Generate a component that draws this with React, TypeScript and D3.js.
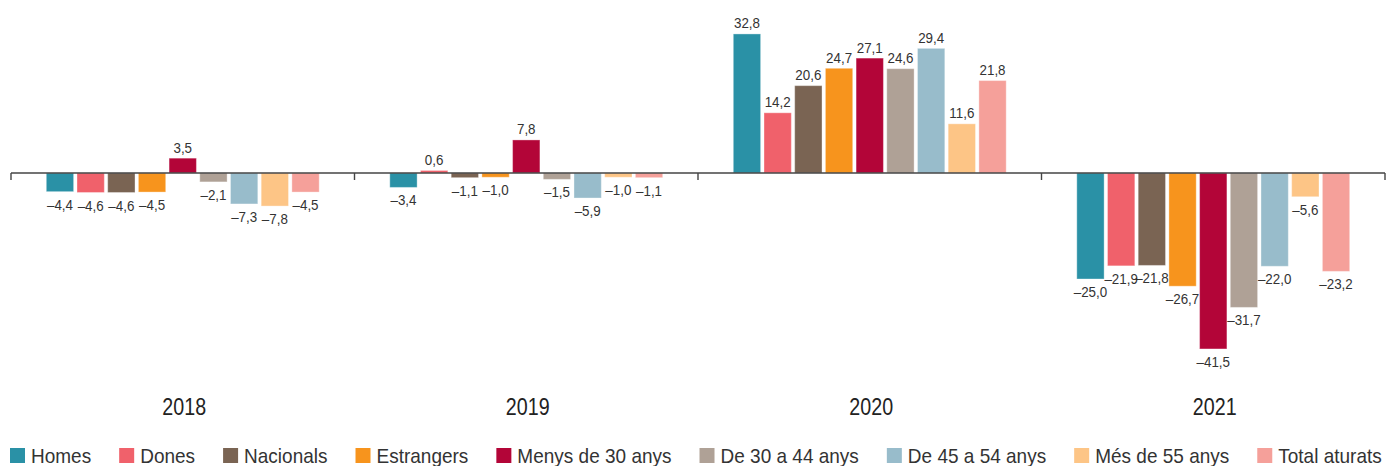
import React, { useEffect, useRef } from "react";
import * as d3 from "d3";

const years = ["2018", "2019", "2020", "2021"];

const seriesNames = [
  "Homes",
  "Dones",
  "Nacionals",
  "Estrangers",
  "Menys de 30 anys",
  "De 30 a 44 anys",
  "De 45 a 54 anys",
  "Més de 55 anys",
  "Total aturats",
];

const seriesColors = [
  "#2a91a6",
  "#f0616b",
  "#7a6453",
  "#f7941d",
  "#b30538",
  "#afa196",
  "#98bccb",
  "#fdc586",
  "#f5a09a",
];

// values per series, one per year
const homes = [-4.4, -3.4, 32.8, -25.0];
const dones = [-4.6, 0.6, 14.2, -21.9];
const nacionals = [-4.6, -1.1, 20.6, -21.8];
const estrangers = [-4.5, -1.0, 24.7, -26.7];
const menys30 = [3.5, 7.8, 27.1, -41.5];
const de30a44 = [-2.1, -1.5, 24.6, -31.7];
const de45a54 = [-7.3, -5.9, 29.4, -22.0];
const mes55 = [-7.8, -1.0, 11.6, -5.6];
const totalAturats = [-4.5, -1.1, 21.8, -23.2];

const seriesValues = [homes, dones, nacionals, estrangers, menys30, de30a44, de45a54, mes55, totalAturats];

const fmt = (v: number) => (v < 0 ? "\u2013" : "") + Math.abs(v).toFixed(1).replace(".", ",");

export default function App() {
  const svgRef = useRef<SVGSVGElement | null>(null);
  const width = 1387;
  const height = 466;

  useEffect(() => {
    const svg = d3.select(svgRef.current);
    svg.selectAll("*").remove();
    const font = "'Liberation Sans', Arial, Helvetica, sans-serif";

    const x = d3.scaleBand<string>().domain(years).range([11, 1385]).padding(0);
    const xs = d3
      .scaleBand<string>()
      .domain(seriesNames)
      .range([0, x.bandwidth()])
      .paddingInner(0.11)
      .paddingOuter(1.15);
    const y = d3.scaleLinear().domain([-45, 35]).range([363.8, 24.6]);

    const data = years.flatMap((yr, i) =>
      seriesNames.map((s, j) => ({ year: yr, series: s, value: seriesValues[j][i], color: seriesColors[j] }))
    );

    // bars
    svg.append("g")
      .selectAll("rect")
      .data(data)
      .join("rect")
      .attr("x", (d) => x(d.year)! + xs(d.series)!)
      .attr("width", xs.bandwidth())
      .attr("y", (d) => y(Math.max(0, d.value)))
      .attr("height", (d) => Math.abs(y(d.value) - y(0)))
      .attr("fill", (d) => d.color)
      .attr("stroke", "#fff")
      .attr("stroke-opacity", 0.35)
      .attr("stroke-width", 1);

    // value labels
    svg.append("g")
      .attr("font-family", font)
      .attr("font-size", 15.2)
      .attr("fill", "#333")
      .attr("text-anchor", "middle")
      .selectAll("text")
      .data(data)
      .join("text")
      .attr("transform", (d) => {
        const cx = x(d.year)! + xs(d.series)! + xs.bandwidth() / 2;
        const cy = d.value >= 0 ? y(d.value) - 5.5 : y(d.value) + 18;
        return `translate(${cx},${cy}) scale(0.88,1)`;
      })
      .text((d) => fmt(d.value));

    // axis line and ticks at band boundaries
    const axis = svg.append("g").attr("stroke", "#444");
    axis.append("line")
      .attr("x1", x.range()[0])
      .attr("x2", x.range()[1])
      .attr("y1", y(0))
      .attr("y2", y(0))
      .attr("stroke-width", 1.4);
    const bounds = [...years.map((yr) => x(yr)!), x.range()[1]];
    axis.selectAll("line.tick")
      .data(bounds)
      .join("line")
      .attr("class", "tick")
      .attr("x1", (d) => d)
      .attr("x2", (d) => d)
      .attr("y1", y(0))
      .attr("y2", y(0) + 7)
      .attr("stroke-width", 1.4);

    // year labels
    svg.append("g")
      .attr("font-family", font)
      .attr("font-size", 24)
      .attr("fill", "#222")
      .attr("text-anchor", "middle")
      .selectAll("text")
      .data(years)
      .join("text")
      .attr("transform", (d) => `translate(${x(d)! + x.bandwidth() / 2 + 1.5},415) scale(0.82,1)`)
      .text((d) => d);

    // legend, laid out by measured text width
    const legend = svg.append("g").attr("font-family", font).attr("font-size", 20).attr("fill", "#333");
    const sx = 0.95;
    let cursor = 10;
    seriesNames.forEach((name, i) => {
      const g = legend.append("g").attr("transform", `translate(${cursor},0)`);
      g.append("rect")
        .attr("x", 0)
        .attr("y", 448)
        .attr("width", 15)
        .attr("height", 15)
        .attr("fill", seriesColors[i]);
      const t = g.append("text")
        .attr("transform", `translate(21,463) scale(${sx},1)`)
        .text(name);
      const w = (t.node() as SVGTextElement).getComputedTextLength() * sx;
      cursor += 21 + w + 28;
    });
  }, []);

  return (
    <svg
      ref={svgRef}
      width={width}
      height={height}
      style={{ position: "absolute", left: 0, top: 0, background: "#fff" }}
    />
  );
}
